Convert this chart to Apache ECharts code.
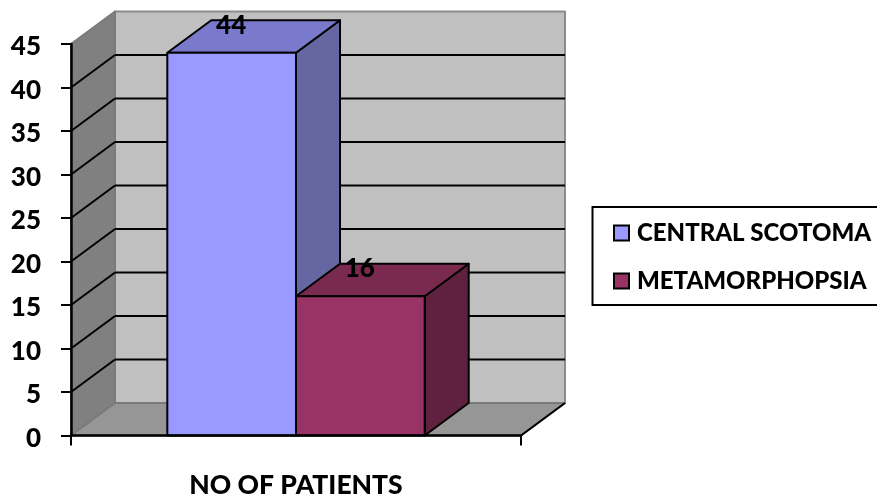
<!DOCTYPE html>
<html>
<head>
<meta charset="utf-8">
<style>html,body{margin:0;padding:0;background:#fff}#chart{width:877px;height:497px}</style>
<script src="https://cdn.jsdelivr.net/npm/echarts@6/dist/echarts.min.js"></script>
</head>
<body>
<div id="chart"></div>
<script>
const categories = ['NO OF PATIENTS'];
const seriesNames = ['CENTRAL SCOTOMA', 'METAMORPHOPSIA'];
const centralScotoma = [44];
const metamorphopsia = [16];
const yTicks = [5, 10, 15, 20, 25, 30, 35, 40];

const FONT = 'Lato, Carlito, sans-serif';
const DEPTH_X = 44;
const DEPTH_Y = -32.5;
const BAR_SHARE = 0.286;

function poly(points, fill, stroke, lineWidth) {
  return {
    type: 'polygon',
    shape: { points },
    style: { fill, stroke: stroke || null, lineWidth: lineWidth || 0, lineJoin: 'round' }
  };
}
function line(a, b, stroke, lineWidth) {
  return {
    type: 'line',
    shape: { x1: a[0], y1: a[1], x2: b[0], y2: b[1] },
    style: { stroke, lineWidth }
  };
}

// Left wall, back wall and floor of the 3D box
function renderWalls(params) {
  const c = params.coordSys;
  const l = c.x, r = c.x + c.width, t = c.y, b = c.y + c.height;
  const edge = '#7a7a7a';
  return {
    type: 'group',
    children: [
      poly([[l + DEPTH_X, t + DEPTH_Y], [r + DEPTH_X, t + DEPTH_Y], [r + DEPTH_X, b + DEPTH_Y], [l + DEPTH_X, b + DEPTH_Y]], '#c0c0c0', '#8c8c8c', 2),
      poly([[l, t], [l + DEPTH_X, t + DEPTH_Y], [l + DEPTH_X, b + DEPTH_Y], [l, b]], '#808080', edge, 2),
      poly([[l, b], [l + DEPTH_X, b + DEPTH_Y], [r + DEPTH_X, b + DEPTH_Y], [r, b]], '#969696', edge, 2),
      line([r, b], [r + DEPTH_X, b + DEPTH_Y], '#000', 2)
    ]
  };
}

// One horizontal gridline, folded across the left and back walls
function renderGridLine(params, api) {
  const c = params.coordSys;
  const y = api.coord([0, api.value(1)])[1];
  const l = c.x, r = c.x + c.width;
  return {
    type: 'group',
    children: [
      line([l, y], [l + DEPTH_X, y + DEPTH_Y], '#000', 2),
      line([l + DEPTH_X, y + DEPTH_Y], [r + DEPTH_X, y + DEPTH_Y], '#000', 2)
    ]
  };
}

// Extruded column: front, top and side faces plus its value above the front edge
function barRenderer(slot, front, top, side) {
  return function (params, api) {
    const v = api.value(1);
    const centre = api.coord([api.value(0), 0]);
    const head = api.coord([api.value(0), v]);
    const w = api.size([1, 0])[0] * BAR_SHARE;
    const x0 = centre[0] + slot * w;
    const x1 = x0 + w;
    const yb = centre[1], yt = head[1];
    const k = '#000';
    return {
      type: 'group',
      children: [
        poly([[x1, yb], [x1 + DEPTH_X, yb + DEPTH_Y], [x1 + DEPTH_X, yt + DEPTH_Y], [x1, yt]], side, k, 2),
        poly([[x0, yt], [x0 + DEPTH_X, yt + DEPTH_Y], [x1 + DEPTH_X, yt + DEPTH_Y], [x1, yt]], top, k, 2),
        poly([[x0, yb], [x0, yt], [x1, yt], [x1, yb]], front, k, 2),
        {
          type: 'text',
          style: {
            x: x0 + w / 2 - 0.5, y: yt - 27.5,
            text: String(v),
            fill: '#000', font: '900 26px ' + FONT,
            align: 'center', verticalAlign: 'middle'
          }
        }
      ]
    };
  };
}

const chart = echarts.init(document.getElementById('chart'), null, { renderer: 'canvas' });
chart.setOption({
  animation: false,
  backgroundColor: '#fff',
  grid: { left: 71, right: 356, top: 44, bottom: 61.5, containLabel: false, outerBoundsMode: 'none' },
  xAxis: {
    type: 'category',
    data: categories,
    z: 10,
    axisLine: { lineStyle: { color: '#000', width: 2.5 } },
    axisTick: { show: true, length: 10, lineStyle: { color: '#000', width: 2 } },
    axisLabel: { margin: 36, color: '#000', fontFamily: FONT, fontWeight: 900, fontSize: 26.5 },
    splitLine: { show: false }
  },
  yAxis: {
    type: 'value',
    min: 0, max: 45, interval: 5,
    z: 10,
    axisLine: { show: true, lineStyle: { color: '#000', width: 2.5 } },
    axisTick: { show: true, length: 10, lineStyle: { color: '#000', width: 2 } },
    axisLabel: { margin: 30, color: '#000', fontFamily: FONT, fontWeight: 900, fontSize: 26, verticalAlign: 'top', lineHeight: 6, align: 'right' },
    splitLine: { show: false }
  },
  legend: {
    data: seriesNames,
    orient: 'vertical',
    left: 608, top: 216,
    itemWidth: 15, itemHeight: 15, itemGap: 24,
    icon: 'rect',
    itemStyle: { borderColor: '#000', borderWidth: 2 },
    textStyle: { color: '#000', fontFamily: FONT, fontWeight: 900, fontSize: 24, padding: [0, 0, 0, 3] },
    selectedMode: false,
    inactiveColor: '#000'
  },
  graphic: [{
    type: 'rect', silent: true, z: -1,
    shape: { x: 592.5, y: 207, width: 300, height: 98 },
    style: { fill: '#fff', stroke: '#000', lineWidth: 2 }
  }],
  series: [
    { type: 'custom', silent: true, z: 1, clip: false, coordinateSystem: 'cartesian2d', data: [[0, 0]], renderItem: renderWalls },
    { type: 'custom', silent: true, z: 2, clip: false, coordinateSystem: 'cartesian2d', data: yTicks.map(t => [0, t]), renderItem: renderGridLine },
    {
      name: seriesNames[0], type: 'custom', z: 3, clip: false, silent: true, coordinateSystem: 'cartesian2d',
      itemStyle: { color: '#9999ff', borderColor: '#000', borderWidth: 2 },
      data: centralScotoma.map((v, i) => [i, v]),
      renderItem: barRenderer(-1, '#9999ff', '#7a7acc', '#6666a3')
    },
    {
      name: seriesNames[1], type: 'custom', z: 4, clip: false, silent: true, coordinateSystem: 'cartesian2d',
      itemStyle: { color: '#993366', borderColor: '#000', borderWidth: 2 },
      data: metamorphopsia.map((v, i) => [i, v]),
      renderItem: barRenderer(0, '#993366', '#7a294f', '#60203f')
    }
  ]
});
</script>
</body>
</html>
